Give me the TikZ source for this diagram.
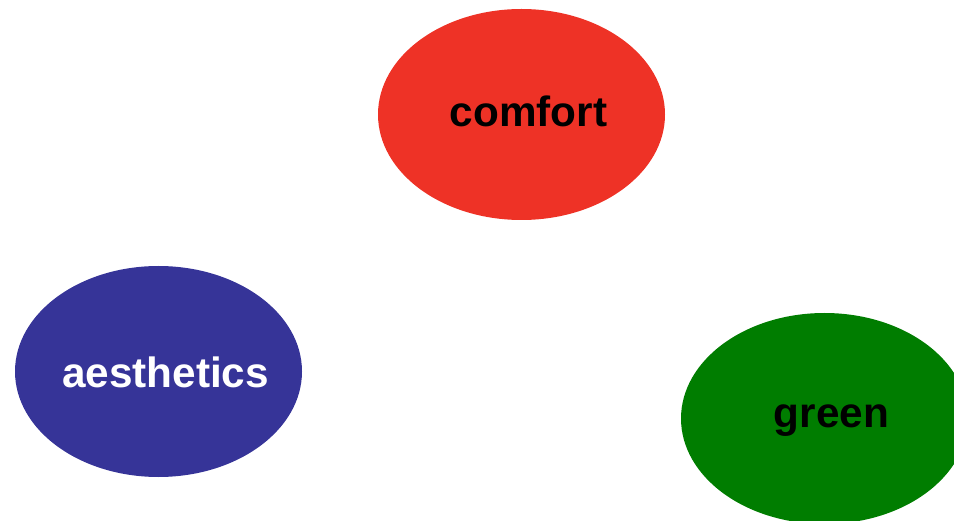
\documentclass[tikz,border=0pt]{standalone}
\usepackage{fontspec}
\setmainfont{Liberation Sans}
\usetikzlibrary{shapes.geometric}
\definecolor{cred}{RGB}{238,50,38}
\definecolor{cblue}{RGB}{54,52,152}
\definecolor{cgreen}{RGB}{0,125,0}
\newcommand{\blobtext}[1]{\hspace*{14pt}\makebox[0pt]{#1}}
\tikzset{
  blob/.style={ellipse, inner sep=0pt, minimum width=287pt, minimum height=211pt,
    text depth=0pt, text height=25pt,
    font=\fontsize{42.3}{50}\selectfont\bfseries}
}
\begin{document}
\begin{tikzpicture}[x=1pt,y=-1pt]
\useasboundingbox (0,0) rectangle (954,521);
\begin{scope}
\clip (0,0) rectangle (954,521);
\node[blob, fill=cred, text=black, text height=25pt] (comfort) at (521.5,114.5) {\blobtext{comfort}};
\node[blob, fill=cblue, text=white, text height=33pt] (aesthetics) at (158.5,371.5) {\blobtext{aesthetics}};
\node[blob, fill=cgreen, text=black, text height=18.4pt] (green) at (824.5,418.5) {\blobtext{green}};
\end{scope}
\end{tikzpicture}
\end{document}
